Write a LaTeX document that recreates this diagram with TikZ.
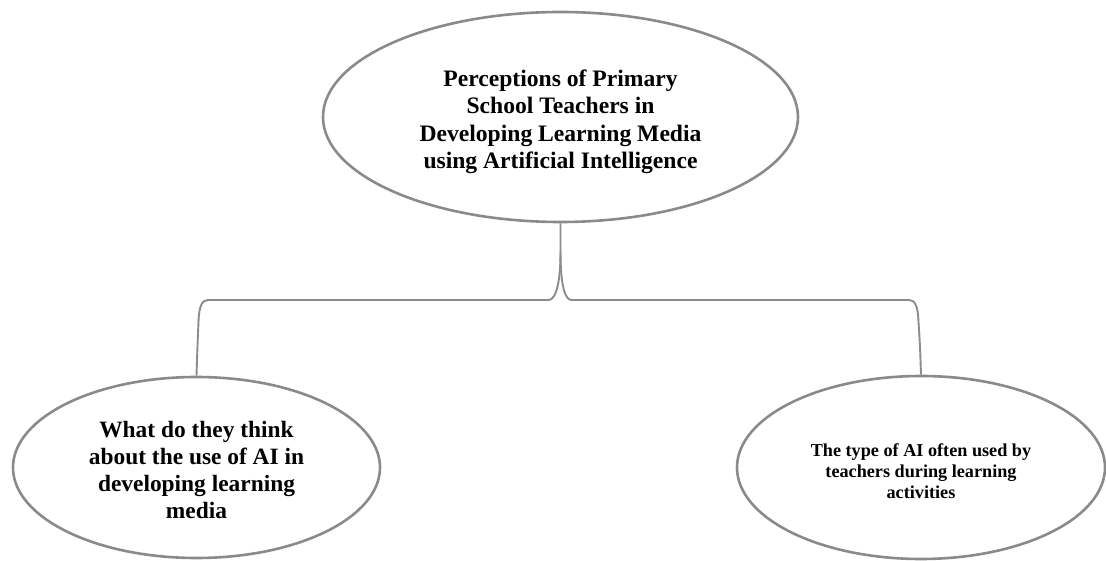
\documentclass[tikz,border=0pt]{standalone}
\usepackage{fontspec}
\setmainfont{Liberation Serif}
\usetikzlibrary{shapes.geometric}
\definecolor{edgegray}{HTML}{8A8A8A}
\definecolor{linkgray}{HTML}{8C8C8C}
\newcommand\bubbletext[2]{\raisebox{#1}[\height][\depth]{\begin{tabular}{@{}c@{}}#2\end{tabular}}}
\tikzset{
  bubble/.style={ellipse, draw=edgegray, line width=2.6pt, inner sep=0pt, align=center, font=\bfseries, text=black},
  link/.style={draw=linkgray, line width=1.9pt, line join=round}
}
\begin{document}
\begin{tikzpicture}[x=1pt,y=-1pt]
\useasboundingbox (0,0) rectangle (1106,561);
\node[bubble, minimum width=475pt, minimum height=210pt, font=\bfseries\fontsize{23.6}{27.5}\selectfont] (top) at (560.5,117)
  {\bubbletext{-5pt}{Perceptions of Primary\\School Teachers in\\Developing Learning Media\\using Artificial Intelligence}};
\node[bubble, minimum width=367pt, minimum height=181pt, font=\bfseries\fontsize{23.4}{27}\selectfont] (left) at (196.5,467.5)
  {\bubbletext{-5pt}{What do they think\\about the use of AI in\\developing learning\\media}};
\node[bubble, minimum width=368pt, minimum height=183pt, font=\bfseries\fontsize{18.2}{21}\selectfont] (right) at (921,467.5)
  {\bubbletext{-6pt}{The type of AI often used by\\teachers during learning\\activities}};
\coordinate (split) at (top.south |- 0,300);
\draw[link] (top.south) -- ++(0,28) .. controls ++(0,40) and ++(5,0) .. ([xshift=-12pt]split)
  -- (208,300) .. controls (202,300) and (199,306) .. (198.5,322) .. controls (197.5,345) .. (left.north);
\draw[link] (top.south) ++(0,28) .. controls ++(0,40) and ++(-5,0) .. ([xshift=11pt]split)
  -- (909,300) .. controls (915,300) and (918,306) .. (918.5,322) .. controls (920,345) .. (right.north);
\end{tikzpicture}
\end{document}
